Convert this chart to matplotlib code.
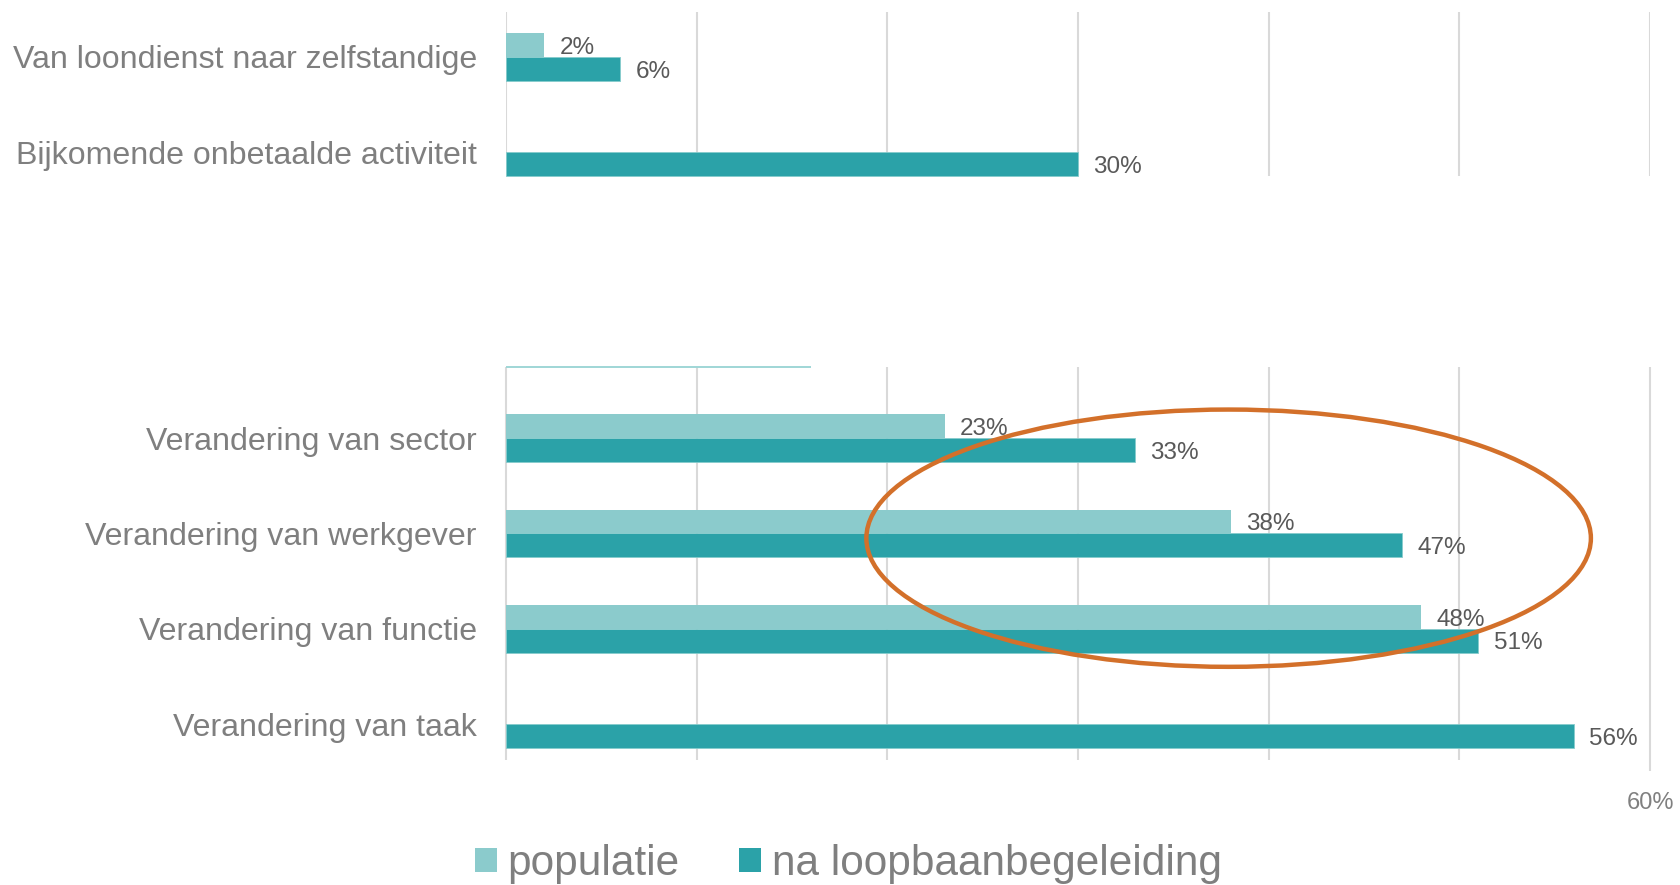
import matplotlib
matplotlib.use("Agg")
import matplotlib.pyplot as plt
from matplotlib.patches import Ellipse, Patch

plt.rcParams['font.family'] = ['Liberation Sans', 'DejaVu Sans']

# ---- data ----
categories = ["Van loondienst naar zelfstandige",
              "Bijkomende onbetaalde activiteit",
              "", "",
              "Verandering van sector",
              "Verandering van werkgever",
              "Verandering van functie",
              "Verandering van taak"]
populatie = [2, None, None, None, 23, 38, 48, None]
na_loopbaan = [6, 30, None, None, 33, 47, 51, 56]
series_names = ["populatie", "na loopbaanbegeleiding"]
hidden_edge_value = 16          # remnant edge of a masked bar
x_ticks = [0, 10, 20, 30, 40, 50, 60]
shown_tick = 60

c_light = "#8BCBCC"
c_dark = "#2BA2A8"
c_grid = "#D9D9D9"
c_cat = "#7F7F7F"
c_val = "#595959"
c_ellipse = "#D3702A"

W, H = 1680, 885
fig = plt.figure(figsize=(W / 100, H / 100), dpi=100)
left, right = 506 / W, 1650 / W
top_px, bot_px = 12, 760
ax = fig.add_axes([left, 1 - bot_px / H, right - left, (bot_px - top_px) / H])

row_h = 95.3
y_top = -(57 - top_px) / row_h
y_bot = 7 + (bot_px - 724) / row_h
ax.set_xlim(0, 60)
ax.set_ylim(y_bot, y_top)

bh = 0.25
ys = list(range(len(categories)))

# gridlines, interrupted in the masked region
for xv in x_ticks:
    ax.vlines(xv, y_top, 1 + bh, color=c_grid, lw=1.5, zorder=0)
    low = y_bot + (11 / row_h if xv == x_ticks[-1] else 0)
    ax.vlines(xv, 2 + 1.25, low, color=c_grid, lw=1.5, zorder=0, clip_on=False)

for i, (p, n) in enumerate(zip(populatie, na_loopbaan)):
    if p is not None:
        ax.barh(i - bh / 2, p, height=bh, color=c_light, zorder=2)
        ax.annotate(f"{p}%", (p, i - bh / 2), xytext=(11, -2),
                    textcoords="offset points", va="center", ha="left",
                    fontsize=17.5, color=c_val)
    if n is not None:
        ax.barh(i + bh / 2, n, height=bh, color=c_dark, edgecolor="#86CCCC",
                lw=0.6, zorder=2)
        ax.annotate(f"{n}%", (n, i + bh / 2), xytext=(11, -2),
                    textcoords="offset points", va="center", ha="left",
                    fontsize=17.5, color=c_val)

# remnant edge line of the hidden bar
ax.hlines(3 + bh, 0, hidden_edge_value, color="#9FD6D6", lw=1.4, zorder=2)

# ellipse highlight
ell = Ellipse((37.9, 5.05), width=38.0, height=2.70, fill=False,
              edgecolor=c_ellipse, lw=3.2, zorder=5, clip_on=False)
ax.add_patch(ell)

ax.set_yticks(ys)
ax.set_yticklabels(categories, fontsize=23.1, color=c_cat)
ax.tick_params(axis="y", length=0, pad=21)
ax.set_xticks([shown_tick])
ax.set_xticklabels([f"{shown_tick}%"], fontsize=17, color="#808080")
ax.tick_params(axis="x", length=0, pad=23)
for s in ax.spines.values():
    s.set_visible(False)

handles = [Patch(facecolor=c_light), Patch(facecolor=c_dark)]
fig.legend(handles, series_names, loc="center", bbox_to_anchor=(0.505, 1 - 864 / H),
           ncol=2, frameon=False, fontsize=30.5, handlelength=0.52,
           handleheight=0.52, handletextpad=0.25, columnspacing=1.4,
           labelcolor=c_cat)

fig.savefig("out.png", dpi=100, facecolor="white")
